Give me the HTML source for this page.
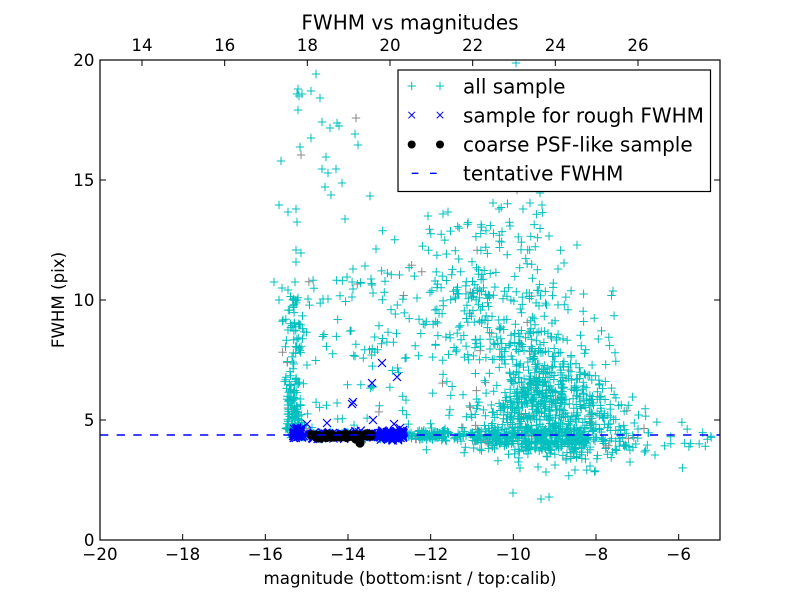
<!DOCTYPE html>
<html><head><meta charset="utf-8"><style>
html,body{margin:0;padding:0;background:#fff;}
svg{display:block;}
text{font-family:"DejaVu Sans","Liberation Sans",sans-serif;fill:#000;}
</style></head><body>
<svg id="s" width="800" height="600" viewBox="0 0 800 600" xmlns="http://www.w3.org/2000/svg">
<rect width="800" height="600" fill="#fff"/>
<defs><clipPath id="c"><rect x="100" y="60" width="620" height="480"/></clipPath></defs>
<g clip-path="url(#c)">
<path id="gr" fill="none" stroke="#8a8a8a" stroke-width="1"/>
<path id="cy" fill="none" stroke="#00bfbf" stroke-width="1"/>
<path id="bx" fill="none" stroke="#0000ff" stroke-width="1.2"/>
<path id="bk" fill="#000" stroke="#000" stroke-width="0.6"/>
<line x1="100" y1="435" x2="720" y2="435" stroke="#0000ff" stroke-width="1.4" stroke-dasharray="8.33 8.33"/>
</g>
<rect x="100" y="60" width="620" height="480" fill="none" stroke="#000" stroke-width="1.2"/>
<g stroke="#000" stroke-width="1">
<path d="M182.67 540v-6M265.33 540v-6M348 540v-6M430.67 540v-6M513.33 540v-6M596 540v-6M678.67 540v-6"/>
<path d="M142 60v6M224.67 60v6M307.33 60v6M390 60v6M472.67 60v6M555.33 60v6M638 60v6"/>
<path d="M100 420h6M100 300h6M100 180h6M720 420h-6M720 300h-6M720 180h-6"/>
</g>
<g font-size="16.67" text-anchor="middle">
<text x="100" y="560">−20</text>
<text x="182.67" y="560">−18</text>
<text x="265.33" y="560">−16</text>
<text x="348" y="560">−14</text>
<text x="430.67" y="560">−12</text>
<text x="513.33" y="560">−10</text>
<text x="596" y="560">−8</text>
<text x="678.67" y="560">−6</text>
<text x="142" y="51">14</text>
<text x="224.67" y="51">16</text>
<text x="307.33" y="51">18</text>
<text x="390" y="51">20</text>
<text x="472.67" y="51">22</text>
<text x="555.33" y="51">24</text>
<text x="638" y="51">26</text>
</g>
<g font-size="16.67" text-anchor="end">
<text x="94.5" y="546">0</text>
<text x="94.5" y="426">5</text>
<text x="94.5" y="306">10</text>
<text x="94.5" y="186">15</text>
<text x="94.5" y="66">20</text>
</g>
<text x="410" y="29.3" font-size="20" text-anchor="middle">FWHM vs magnitudes</text>
<text x="410" y="584" font-size="16.67" text-anchor="middle">magnitude (bottom:isnt / top:calib)</text>
<text x="0" y="0" font-size="16.67" text-anchor="middle" transform="translate(64,300) rotate(-90)">FWHM (pix)</text>
<rect x="398" y="70" width="312.5" height="121.5" fill="#fff" stroke="#000" stroke-width="1.2"/>
<g stroke="#00bfbf" stroke-width="1" fill="none"><path d="M407.5 86h8.4M411.7 81.8v8.4M435.8 86h8.4M440 81.8v8.4"/></g>
<g stroke="#0000ff" stroke-width="1" fill="none"><path d="M408.4 111.8l6.6 6.6M408.4 118.4l6.6 -6.6M436.7 111.8l6.6 6.6M436.7 118.4l6.6 -6.6"/></g>
<circle cx="411.7" cy="144.5" r="4" fill="#000"/>
<circle cx="440" cy="144.5" r="4" fill="#000"/>
<g stroke="#0000ff" stroke-width="1.4"><path d="M411.7 173.3h6.7M430 173.3h6.7"/></g>
<g font-size="20">
<text x="463" y="93.3">all sample</text>
<text x="463" y="122.4">sample for rough FWHM</text>
<text x="463" y="151.5">coarse PSF-like sample</text>
<text x="463" y="180.6">tentative FWHM</text>
</g>
</svg>
<script>
(function(){
var s=20240611;
function R(){s|=0;s=s+0x6D2B79F5|0;var t=Math.imul(s^s>>>15,1|s);t=t+Math.imul(t^t>>>7,61|t)^t;return((t^t>>>14)>>>0)/4294967296;}
function N(){var u=1-R(),v=R();return Math.sqrt(-2*Math.log(u))*Math.cos(2*Math.PI*v);}
function U(a,b){return a+(b-a)*R();}
var cy=[],gr=[],bx=[],bk=[];
function P(x,y){(R()<0.04?gr:cy).push([x,y]);}
var i,x,y,m,sg;
for(i=0;i<760;i++){
  x=R()<0.3?U(290,450):535+N()*45;
  if(x<290||x>705){continue;}
  m=(x-100)/41.333-20; sg=0.07+0.085*Math.max(0,m+12.5);
  P(x,540-(4.35+N()*sg)*24);
}
for(i=0;i<35;i++){P(U(600,715),435+N()*10);}
for(i=0;i<70;i++){P(545+N()*42,440+Math.abs(N())*12);}
[[513,493],[541,499],[549,497],[546,472],[520,468],[538,467],[555,465],[575,470],[590,466],[630,462],[655,455]].forEach(function(p){P(p[0],p[1]);});
for(i=0;i<480;i++){
  y=420-Math.abs(N())*38; if(y<330)y=U(330,360);
  x=540+(y-340)*0.12+N()*(22+(y-340)*0.22);
  P(x,y);
}
for(i=0;i<150;i++){P(500+N()*38,U(290,360));}
for(i=0;i<115;i++){P(485+N()*38,200+100*Math.pow(R(),0.7));}
[[517,190],[540,193],[493,203],[530,203],[542,205],[499,209],[523,209],[516,63],[577,245],[613,291],[417,298],[428,216],[443,214],[448,212],[564,263],[558,269],[549,236]].forEach(function(p){P(p[0],p[1]);});
for(i=0;i<160;i++){P(294+N()*4.5,430-135*Math.pow(R(),1.6));}
for(i=0;i<60;i++){P(U(300,380),U(280,430));}
for(i=0;i<60;i++){P(U(380,470),U(270,430));}
[[316,74],[298,89],[302,94],[311,91],[320,98],[298,110],[322,122],[330,128],[337,123],[339,126],[356,118],[355,134],[358,145],[311,138],[281,161],[301,155],[326,157],[322,169],[328,173],[336,169],[325,187],[331,195],[342,183],[370,196],[279,205],[288,212],[296,209],[297,222],[345,219],[296,250],[301,253],[296,262],[376,249],[365,266],[353,269],[347,277],[371,279],[274,282],[282,288],[288,290],[295,282],[353,289],[352,297],[308,299],[323,299],[328,299],[297,94],[299,96],[300,147],[372,285],[279,300],[297,300],[283,320],[288,330]].forEach(function(p){P(p[0],p[1]);});
for(i=0;i<150;i++){bx.push([U(293,403),435+N()*1.8]);}
for(i=0;i<120;i++){x=393+N()*7;if(x<378)x=U(378,395);if(x>404)x=U(395,404);bx.push([x,435+N()*2.2]);}
for(i=0;i<20;i++){bx.push([U(293,302),U(427,437)]);}
[[382,363],[372,383],[397,377],[352,404],[353,402],[373,420],[394,424],[327,423],[307,424],[400,428]].forEach(function(p){bx.push(p);});
for(i=0;i<60;i++){bk.push([U(311,372),436+N()*0.9]);}
bk.push([360,443],[360,441],[321,438],[318,438]);
function f(v){return Math.round(v*10)/10;}
var d='';cy.forEach(function(p){d+='M'+f(p[0]-4.2)+' '+f(p[1])+'h8.4M'+f(p[0])+' '+f(p[1]-4.2)+'v8.4';});
document.getElementById('cy').setAttribute('d',d);
d='';gr.forEach(function(p){d+='M'+f(p[0]-4.2)+' '+f(p[1])+'h8.4M'+f(p[0])+' '+f(p[1]-4.2)+'v8.4';});
document.getElementById('gr').setAttribute('d',d);
d='';bx.forEach(function(p){d+='M'+f(p[0]-4)+' '+f(p[1]-4)+'l8 8M'+f(p[0]-4)+' '+f(p[1]+4)+'l8 -8';});
document.getElementById('bx').setAttribute('d',d);
d='';bk.forEach(function(p){d+='M'+f(p[0]-4.3)+' '+f(p[1])+'a4.3 4.3 0 1 0 8.6 0a4.3 4.3 0 1 0 -8.6 0';});
document.getElementById('bk').setAttribute('d',d);
})();
</script>
</body></html>
